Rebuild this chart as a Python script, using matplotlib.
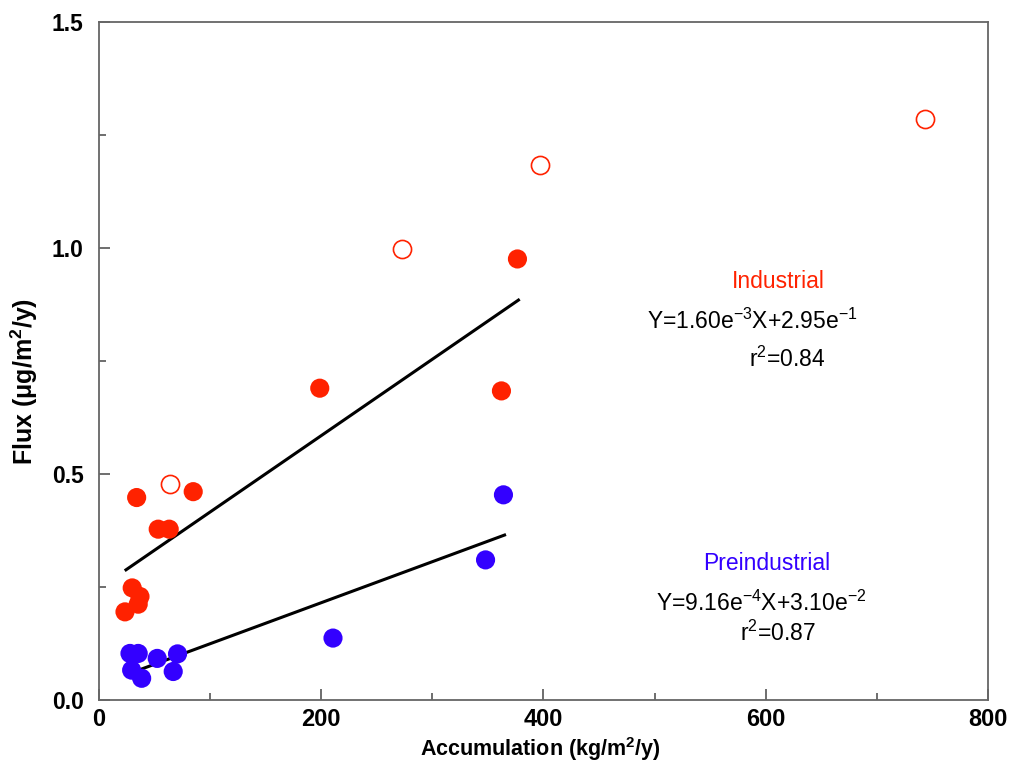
import matplotlib.pyplot as plt
from matplotlib.ticker import MultipleLocator

plt.rcParams["font.family"] = ["Liberation Sans", "DejaVu Sans"]
plt.rcParams["mathtext.fontset"] = "custom"
plt.rcParams["mathtext.rm"] = "Liberation Sans"
plt.rcParams["mathtext.bf"] = "Liberation Sans:bold"
plt.rcParams["mathtext.default"] = "regular"

# industrial (filled red)
ind_x = [33.9, 84.8, 53.3, 63.2, 29.9, 36.9, 35.3, 23.4, 198.7, 362.2, 376.6]
ind_y = [0.448, 0.461, 0.378, 0.378, 0.248, 0.229, 0.212, 0.195, 0.690, 0.684, 0.976]

# open red points
open_x = [63.8, 272.4, 397.3, 743.4]
open_y = [0.479, 0.998, 1.184, 1.285]

# preindustrial (blue)
pre_x = [27.9, 35.3, 52.4, 70.7, 29.4, 38.4, 66.8, 210.6, 347.9, 364.0]
pre_y = [0.103, 0.103, 0.092, 0.102, 0.066, 0.048, 0.063, 0.137, 0.310, 0.454]

# fit lines as drawn
ind_line_x = [24.3, 377.5]
ind_line_y = [0.288, 0.885]
pre_line_x = [27.9, 365.0]
pre_line_y = [0.059, 0.365]

red = "#ff2200"
blue = "#3300ff"

fig = plt.figure(figsize=(10.09, 7.65), dpi=100)
ax = fig.add_axes([0.0981, 0.085, 0.881, 0.886])

ax.plot(ind_line_x, ind_line_y, color="black", lw=2.2, zorder=2)
ax.plot(pre_line_x, pre_line_y, color="black", lw=2.2, zorder=2)

ax.scatter(ind_x, ind_y, s=190, color=red, edgecolor="none", zorder=3)
ax.scatter(pre_x, pre_y, s=190, color=blue, edgecolor="none", zorder=3)
ax.scatter(open_x, open_y, s=170, facecolor="white", edgecolor=red, linewidth=1.2, zorder=3)

ax.set_xlim(0, 800)
ax.set_ylim(0, 1.5)
ax.xaxis.set_major_locator(MultipleLocator(200))
ax.xaxis.set_minor_locator(MultipleLocator(100))
ax.yaxis.set_major_locator(MultipleLocator(0.5))
ax.yaxis.set_minor_locator(MultipleLocator(0.25))
ax.yaxis.set_major_formatter(plt.FormatStrFormatter("%.1f"))
ax.tick_params(which="both", direction="in", color="#555555", width=1.2,
               labelcolor="black")
ax.tick_params(which="major", length=8)
ax.tick_params(which="minor", length=5)
ax.tick_params(axis="x", pad=6, labelsize=17)
ax.tick_params(axis="y", pad=11, labelsize=16.5)
for lab in ax.get_xticklabels() + ax.get_yticklabels():
    lab.set_fontweight("bold")

for sp in ax.spines.values():
    sp.set_color("#666666")
    sp.set_linewidth(1.3)

ax.set_xlabel("Accumulation (kg/m$^2$/y)", fontsize=15.5, fontweight="bold")
ax.xaxis.set_label_coords(0.496, -0.052)
ax.set_ylabel("Flux (\u03bcg/m$^2$/y)", fontsize=18, fontweight="bold")
ax.yaxis.set_label_coords(-0.066, 0.47)

ax.text(0.764, 0.618, "Industrial", color=red, fontsize=16.5, ha="center", va="center",
        transform=ax.transAxes)
ax.text(0.735, 0.558, "Y=1.60e$^{-3}$X+2.95e$^{-1}$", fontsize=16.5, ha="center",
        va="center", transform=ax.transAxes)
ax.text(0.774, 0.503, "r$^2$=0.84", fontsize=16.5, ha="center", va="center",
        transform=ax.transAxes)

ax.text(0.751, 0.202, "Preindustrial", color=blue, fontsize=16.5, ha="center", va="center",
        transform=ax.transAxes)
ax.text(0.745, 0.143, "Y=9.16e$^{-4}$X+3.10e$^{-2}$", fontsize=16.5, ha="center",
        va="center", transform=ax.transAxes)
ax.text(0.764, 0.099, "r$^2$=0.87", fontsize=16.5, ha="center", va="center",
        transform=ax.transAxes)

fig.savefig("out.png", dpi=100)
